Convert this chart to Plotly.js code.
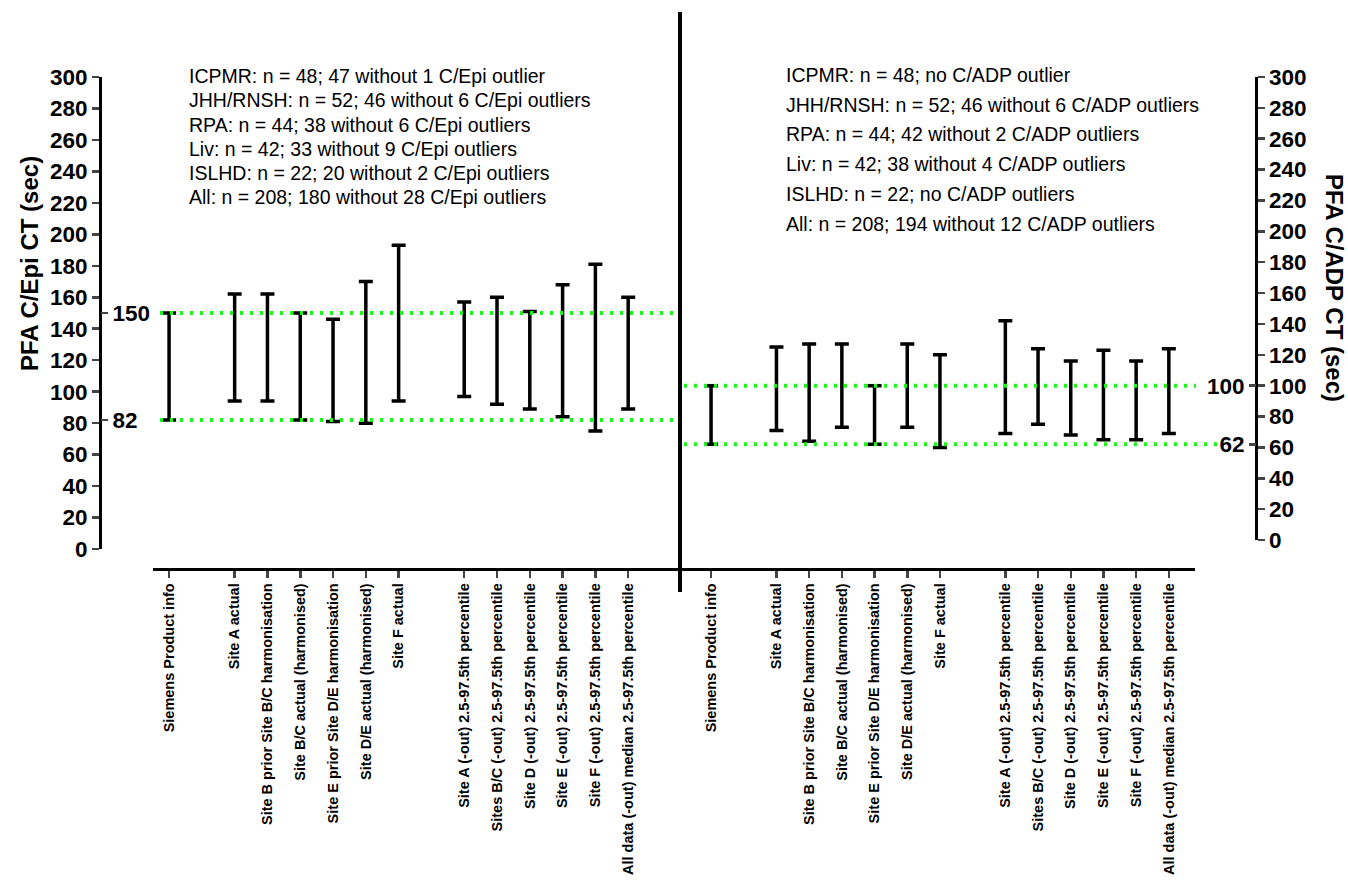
<!DOCTYPE html>
<html>
<head>
<meta charset="utf-8">
<script src="https://cdn.plot.ly/plotly-3.0.1.min.js"></script>
<style>html,body{margin:0;padding:0;background:#fff;}#chart{width:1348px;height:882px;}</style>
</head>
<body>
<div id="chart"></div>
<script>
// ---------- data ----------
const categories = [
  "Siemens Product info",
  "Site A actual",
  "Site B prior Site B/C harmonisation",
  "Site B/C actual (harmonised)",
  "Site E prior Site D/E harmonisation",
  "Site D/E actual (harmonised)",
  "Site F actual",
  "Site A (-out) 2.5-97.5th percentile",
  "Sites B/C (-out) 2.5-97.5th percentile",
  "Site D (-out) 2.5-97.5th percentile",
  "Site E (-out) 2.5-97.5th percentile",
  "Site F (-out) 2.5-97.5th percentile",
  "All data (-out) median 2.5-97.5th percentile"
];
const groupSizes = [1, 6, 6];

const epiLow  = [82, 94, 94, 82, 81, 80, 94, 97, 92, 89, 84, 75, 89];
const epiHigh = [150, 162, 162, 150, 146, 170, 193, 157, 160, 151, 168, 181, 160];
const adpLow  = [62, 71, 64, 73, 62, 73, 60, 69, 75, 68, 65, 65, 69];
const adpHigh = [100, 125, 127, 127, 100, 127, 120, 142, 124, 116, 123, 116, 124];

const epiRefs = [82, 150];
const adpRefs = [62, 100];
const yTickVals = [0, 20, 40, 60, 80, 100, 120, 140, 160, 180, 200, 220, 240, 260, 280, 300];

const epiNotes = [
  "ICPMR: n = 48; 47 without 1 C/Epi outlier",
  "JHH/RNSH: n = 52; 46 without 6 C/Epi outliers",
  "RPA: n = 44; 38 without 6 C/Epi outliers",
  "Liv: n = 42; 33 without 9 C/Epi outliers",
  "ISLHD: n = 22; 20 without 2 C/Epi outliers",
  "All: n = 208; 180 without 28 C/Epi outliers"
];
const adpNotes = [
  "ICPMR: n = 48; no C/ADP outlier",
  "JHH/RNSH: n = 52; 46 without 6 C/ADP outliers",
  "RPA: n = 44; 42 without 2 C/ADP outliers",
  "Liv: n = 42; 38 without 4 C/ADP outliers",
  "ISLHD: n = 22; no C/ADP outliers",
  "All: n = 208; 194 without 12 C/ADP outliers"
];
const epiTitle = "PFA C/Epi CT (sec)";
const adpTitle = "PFA C/ADP CT (sec)";

// ---------- layout helpers ----------
const W = 1348, H = 882;
const px = v => v / W;
const py = v => 1 - v / H;

// slot positions with a one-slot gap between groups
const xs = [];
(function(){ let p = 0; groupSizes.forEach((n) => { for (let i = 0; i < n; i++) { xs.push(p); p++; } p++; }); })();

function rangeTrace(low, high, xa, ya) {
  const mid = low.map((l, i) => (l + high[i]) / 2);
  return {
    type: 'scatter', mode: 'markers', x: xs, y: mid, xaxis: xa, yaxis: ya,
    marker: {size: 2, color: 'rgba(0,0,0,0)'},
    error_y: {type: 'data', symmetric: false,
      array: high.map((h, i) => h - mid[i]),
      arrayminus: low.map((l, i) => mid[i] - l),
      color: '#000', thickness: 3.5, width: 7},
    hoverinfo: 'skip', showlegend: false
  };
}

const fontName = '"Liberation Sans", Arial, Helvetica, sans-serif';
const tickFont = {family: fontName, size: 22.5, color: '#000', weight: 700};
const xFont = {family: fontName, size: 14.5, color: '#000', weight: 700};

const baseY = {
  range: [0, 300], tickvals: yTickVals, ticks: 'outside', ticklen: 7, tickwidth: 2.5,
  showline: true, linewidth: 2.5, linecolor: '#000', showgrid: false, zeroline: false,
  tickfont: tickFont, fixedrange: true
};
const refY = {
  range: [0, 300], ticks: 'outside', ticklen: 7, tickwidth: 2.5,
  showline: false, showgrid: false, zeroline: false, tickfont: tickFont, fixedrange: true
};
const baseX = {
  tickvals: xs, ticktext: categories, tickangle: -90, ticks: 'outside', ticklen: 7, tickwidth: 2.5,
  showline: true, linewidth: 2.5, linecolor: '#000', showgrid: false, zeroline: false,
  tickfont: xFont, anchor: 'free', position: py(569), fixedrange: true
};

const layout = {
  width: W, height: H, margin: {l: 0, r: 0, t: 0, b: 0},
  paper_bgcolor: '#fff', plot_bgcolor: 'rgba(0,0,0,0)', showlegend: false,
  xaxis: Object.assign({}, baseX, {domain: [px(153), px(680)], range: [-0.49, 15.58]}),
  xaxis2: Object.assign({}, baseX, {domain: [px(680), px(1195)], range: [-0.95, 14.8]}),
  yaxis: Object.assign({}, baseY, {domain: [py(549), py(77)], anchor: 'free', position: px(100), side: 'left'}),
  yaxis3: Object.assign({}, refY, {overlaying: 'y', anchor: 'free', position: px(100), side: 'right',
    tickvals: epiRefs, ticktext: epiRefs.map(String)}),
  yaxis2: Object.assign({}, baseY, {domain: [py(540), py(77)], anchor: 'free', position: px(1256), side: 'right'}),
  yaxis4: Object.assign({}, refY, {overlaying: 'y2', anchor: 'free', position: px(1256), side: 'left',
    tickvals: adpRefs, ticktext: adpRefs.map(String)}),
  shapes: [],
  annotations: []
};

// dotted green reference lines
const green = {color: '#1cf51c', width: 4, dash: '3px,7px'};
epiRefs.forEach(v => layout.shapes.push({type: 'line', xref: 'paper', yref: 'y', x0: px(160), x1: px(680), y0: v, y1: v, line: green}));
layout.shapes.push({type: 'line', xref: 'paper', yref: 'y2', x0: px(684), x1: px(1196), y0: adpRefs[1], y1: adpRefs[1], line: green});
layout.shapes.push({type: 'line', xref: 'paper', yref: 'y2', x0: px(684), x1: px(1218), y0: adpRefs[0], y1: adpRefs[0], line: green});
// divider
layout.shapes.push({type: 'line', xref: 'paper', yref: 'paper', x0: px(680), x1: px(680), y0: py(12), y1: py(592), line: {color: '#000', width: 4}});

// notes
const noteFont = {family: fontName, size: 19.5, color: '#000'};
epiNotes.forEach((t, i) => layout.annotations.push({text: t, xref: 'paper', yref: 'paper', x: px(187), y: py(76 + 24.3 * i), xanchor: 'left', yanchor: 'middle', showarrow: false, font: noteFont}));
adpNotes.forEach((t, i) => layout.annotations.push({text: t, xref: 'paper', yref: 'paper', x: px(784), y: py(75 + 29.7 * i), xanchor: 'left', yanchor: 'middle', showarrow: false, font: noteFont}));

// axis titles
const titleFont = {family: fontName, size: 24, color: '#000', weight: 700};
layout.annotations.push({text: epiTitle, xref: 'paper', yref: 'paper', x: px(29), y: py(264), textangle: -90, xanchor: 'center', yanchor: 'middle', showarrow: false, font: titleFont});
layout.annotations.push({text: adpTitle, xref: 'paper', yref: 'paper', x: px(1334), y: py(288), textangle: 90, xanchor: 'center', yanchor: 'middle', showarrow: false, font: titleFont});

const data = [
  rangeTrace(epiLow, epiHigh, 'x', 'y'),
  rangeTrace(adpLow, adpHigh, 'x2', 'y2'),
  {type: 'scatter', mode: 'markers', x: [null], y: [null], xaxis: 'x', yaxis: 'y3', showlegend: false, hoverinfo: 'skip'},
  {type: 'scatter', mode: 'markers', x: [null], y: [null], xaxis: 'x2', yaxis: 'y4', showlegend: false, hoverinfo: 'skip'}
];

Plotly.newPlot('chart', data, layout, {displayModeBar: false, staticPlot: true});
</script>
</body>
</html>
